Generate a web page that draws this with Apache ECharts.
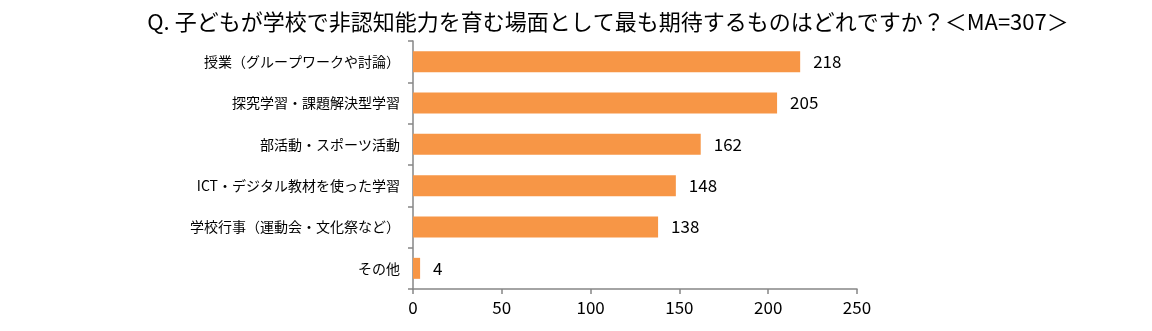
<!DOCTYPE html>
<html><head><meta charset="utf-8">
<script src="https://cdn.jsdelivr.net/npm/echarts@6/dist/echarts.min.js"></script>
<style>html,body{margin:0;padding:0;background:#fff}#c{width:1152px;height:331px}</style>
</head><body><div id="c"></div>
<script>
const titleText = "Q. 子どもが学校で非認知能力を育む場面として最も期待するものはどれですか？＜MA=307＞";
const categories = ["授業（グループワークや討論）","探究学習・課題解決型学習","部活動・スポーツ活動","ICT・デジタル教材を使った学習","学校行事（運動会・文化祭など）","その他"];
const values = [218,205,162,148,138,4];
const xTicks = {min:0,max:250,interval:50};
const ff = '"Noto Sans CJK JP","Noto Sans",sans-serif';
const chart = echarts.init(document.getElementById('c'));
chart.setOption({
  animation:false,
  title:{text:titleText,left:603,textAlign:'center',top:6,textStyle:{fontFamily:ff,fontSize:22,fontWeight:'normal',color:'#000'}},
  grid:{left:413,top:41,width:444,height:248,containLabel:false},
  xAxis:{type:'value',min:xTicks.min,max:xTicks.max,interval:xTicks.interval,
    axisLine:{show:true,lineStyle:{color:'#868686',width:1.5}},
    axisTick:{show:true,length:5,lineStyle:{color:'#868686',width:1.5}},
    splitLine:{show:false},
    axisLabel:{fontFamily:ff,fontSize:17,color:'#000',margin:10}},
  yAxis:{type:'category',inverse:true,data:categories,
    axisLine:{show:true,lineStyle:{color:'#868686',width:1.5}},
    axisTick:{show:true,length:5,lineStyle:{color:'#868686',width:1.5}},
    axisLabel:{fontFamily:ff,fontSize:14,color:'#000',margin:13}},
  series:[{type:'bar',data:values,barWidth:21,itemStyle:{color:'#F79646'},
    label:{show:true,position:'right',distance:13,fontFamily:ff,fontSize:17,color:'#000'}}]
});
</script></body></html>
